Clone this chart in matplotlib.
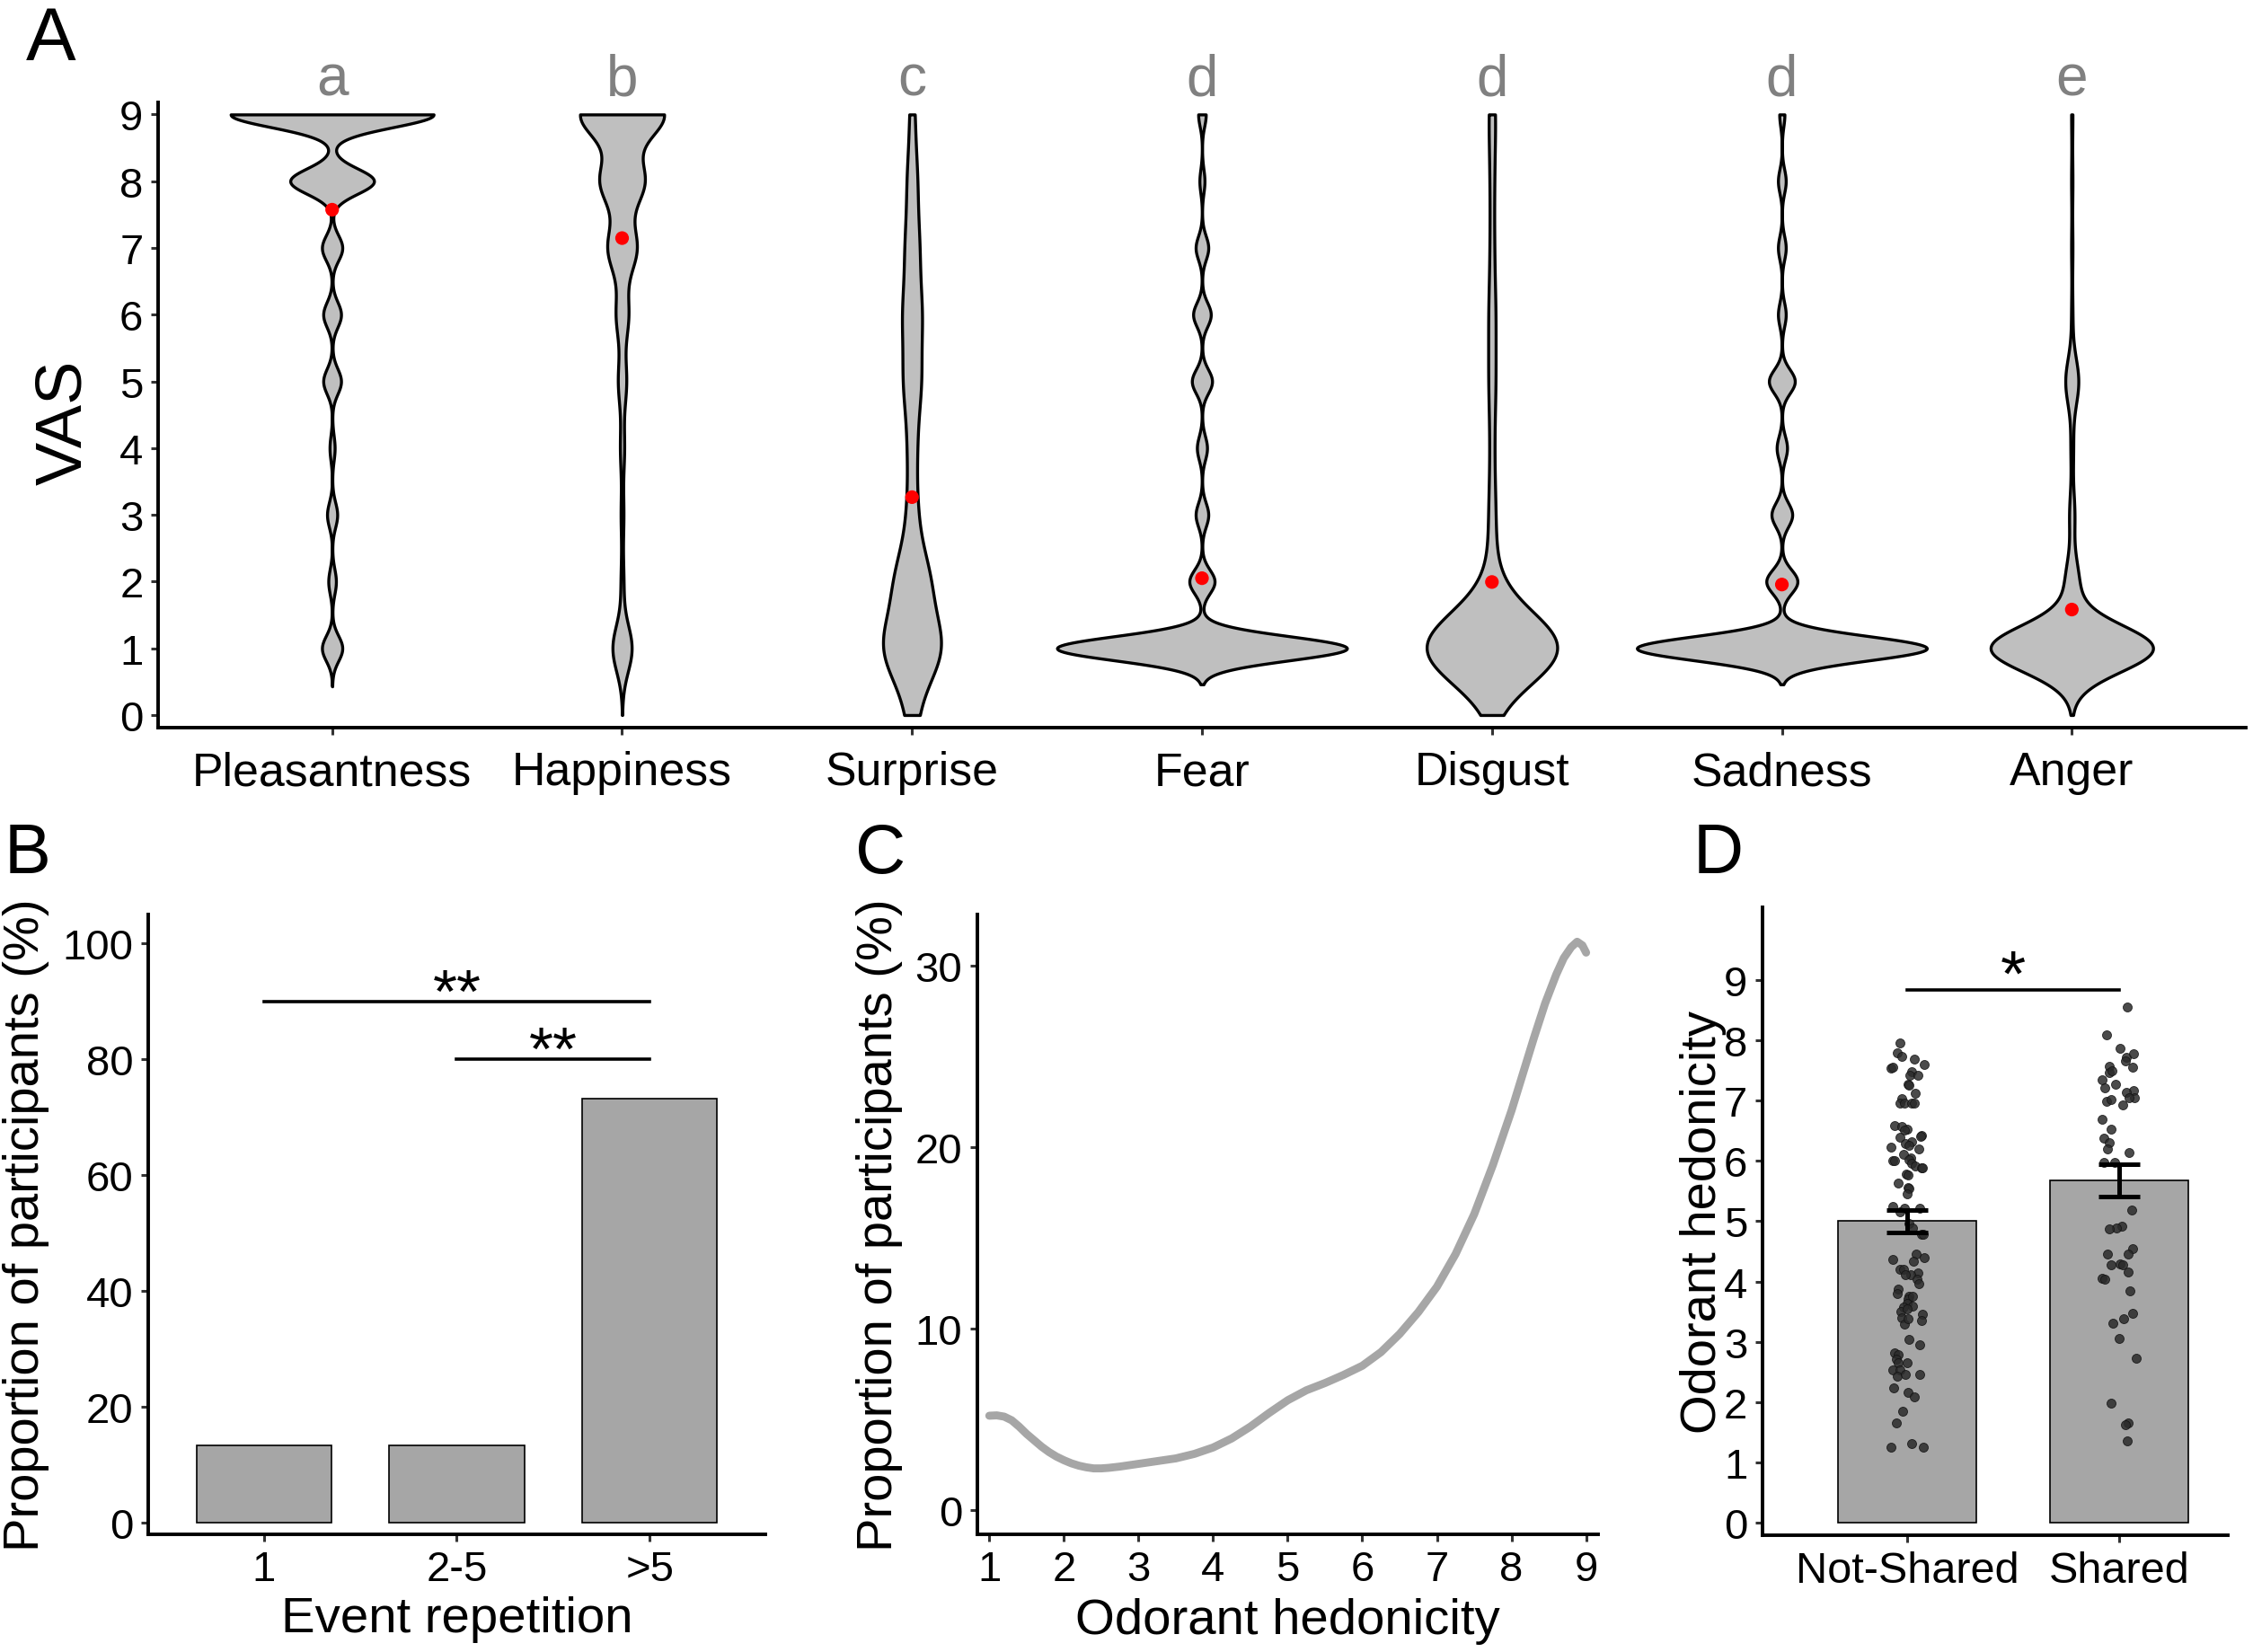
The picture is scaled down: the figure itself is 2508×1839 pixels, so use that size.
import numpy as np
import matplotlib.pyplot as plt
from matplotlib import mlab

narrow = ["Liberation Sans Narrow", "Liberation Sans", "DejaVu Sans"]
plt.rcParams["font.family"] = ["Liberation Sans", "DejaVu Sans"]

# ---------------- data ----------------
# panel A: number of ratings at each VAS value (0..9)
emotions = ["Pleasantness", "Happiness", "Surprise", "Fear", "Disgust", "Sadness", "Anger"]
group_letters = ["a", "b", "c", "d", "d", "d", "e"]
rating_values = [0, 1, 2, 3, 4, 5, 6, 7, 8, 9]
pleasantness_counts = [0, 8, 3, 4, 2, 7, 7, 8, 33, 80]
happiness_counts = [0, 14, 2, 2, 3, 6, 9, 21, 32, 61]
surprise_counts = [8, 48, 28, 8, 7, 14, 15, 11, 8, 4]
fear_counts = [0, 115, 10, 5, 4, 8, 7, 5, 2, 3]
disgust_counts = [0, 115, 6, 5, 3, 5, 5, 3, 3, 5]
sadness_counts = [0, 112, 12, 8, 4, 10, 3, 3, 3, 2]
anger_counts = [0, 125, 10, 4, 2, 10, 1, 1, 1, 1]

# panel B
repetition_labels = ["1", "2-5", ">5"]
repetition_pct = [13.4, 13.4, 73.2]

# panel C: proportion of participants vs odorant hedonicity
hedonicity_x = [1.0, 1.1, 1.2, 1.3, 1.4, 1.5, 1.6, 1.7, 1.8, 1.9, 2.0, 2.1, 2.2, 2.3,
                2.4, 2.5, 2.6, 2.75, 3.0, 3.25, 3.5, 3.75, 4.0, 4.25, 4.5, 4.75, 5.0,
                5.25, 5.5, 5.75, 6.0, 6.25, 6.5, 6.75, 7.0, 7.25, 7.5, 7.75, 8.0, 8.15,
                8.3, 8.45, 8.6, 8.7, 8.8, 8.88, 8.95, 9.0]
hedonicity_pct = [5.2, 5.22, 5.15, 4.95, 4.6, 4.2, 3.85, 3.5, 3.2, 2.95, 2.75, 2.58, 2.45,
                  2.36, 2.3, 2.3, 2.33, 2.4, 2.55, 2.7, 2.85, 3.1, 3.45, 3.95, 4.6, 5.35,
                  6.05, 6.6, 7.0, 7.45, 7.95, 8.7, 9.7, 10.9, 12.3, 14.1, 16.3, 19.0, 22.0,
                  24.0, 26.0, 27.9, 29.5, 30.4, 31.0, 31.3, 31.1, 30.7]

# panel D
share_labels = ["Not-Shared", "Shared"]
share_means = [5.0, 5.68]
share_sem = [0.18, 0.27]
not_shared_offset = [-0.034, -0.046, -0.026, 0.036, -0.077, -0.065, 0.081, 0.020, 0.012, 0.051,
                     0.006, 0.010, 0.040, -0.024, -0.034, -0.010, 0.022, 0.034, -0.059, -0.026,
                     0.002, -0.010, 0.067, 0.063, -0.034, 0.020, -0.077, -0.006, 0.010, 0.016,
                     0.057, -0.065, -0.057, -0.016, 0.010, 0.022, 0.040, 0.067, 0.071, -0.002,
                     0.004, -0.040, 0.006, 0.010, 0.000, -0.067, -0.010, -0.034, 0.061, 0.010,
                     0.026, 0.067, 0.077, 0.044, 0.081, -0.065, 0.030, -0.032, -0.018, 0.051,
                     0.016, 0.048, -0.008, 0.057, -0.040, -0.044, 0.010, 0.004, 0.028, 0.000,
                     -0.018, 0.026, -0.030, 0.000, 0.071, 0.069, -0.026, -0.014, 0.006, 0.010,
                     0.061, -0.057, -0.040, -0.051, 0.002, -0.040, -0.065, -0.032, -0.046, -0.006,
                     0.061, -0.061, 0.006, 0.034, -0.020, -0.051, -0.077, 0.020, 0.075]
not_shared_vals = [7.95, 7.79, 7.73, 7.68, 7.54, 7.55, 7.60, 7.48, 7.42, 7.42,
                   7.27, 7.25, 7.12, 7.03, 6.96, 6.96, 6.96, 6.96, 6.59, 6.57,
                   6.53, 6.51, 6.42, 6.40, 6.39, 6.32, 6.23, 6.29, 6.25, 6.05,
                   6.20, 6.01, 6.01, 6.10, 6.02, 5.96, 5.92, 5.88, 5.89, 5.78,
                   5.77, 5.63, 5.56, 5.54, 5.45, 5.25, 5.21, 5.16, 5.21, 4.96,
                   4.89, 4.79, 4.78, 4.46, 4.40, 4.36, 4.33, 4.21, 4.20, 4.15,
                   4.11, 4.04, 4.11, 3.96, 3.88, 3.80, 3.75, 3.71, 3.75, 3.64,
                   3.58, 3.60, 3.51, 3.55, 3.46, 3.36, 3.40, 3.30, 3.38, 3.04,
                   2.96, 2.82, 2.79, 2.71, 2.66, 2.66, 2.54, 2.54, 2.43, 2.46,
                   2.46, 2.24, 2.17, 2.09, 1.85, 1.66, 1.25, 1.32, 1.25]
shared_offset = [0.036, -0.059, 0.004, 0.032, 0.067, -0.046, 0.030, 0.063, -0.046, -0.036,
                 -0.081, -0.020, -0.067, 0.065, 0.034, 0.071, 0.046, -0.061, -0.038, 0.014,
                 -0.081, -0.040, -0.075, -0.046, -0.057, 0.044, -0.073, -0.024, 0.057, 0.010,
                 -0.016, -0.048, 0.061, -0.055, 0.042, 0.004, 0.016, -0.040, 0.040, -0.081,
                 -0.071, 0.051, 0.061, 0.020, -0.030, 0.000, 0.077, -0.040, 0.040, 0.030, 0.036]
shared_vals = [8.54, 8.09, 7.87, 7.71, 7.78, 7.57, 7.66, 7.55, 7.46, 7.49,
               7.34, 7.27, 7.21, 7.16, 7.13, 7.04, 7.04, 6.99, 7.01, 6.93,
               6.68, 6.52, 6.37, 6.30, 6.19, 6.14, 5.98, 5.98, 5.19, 4.92,
               4.88, 4.87, 4.54, 4.45, 4.45, 4.29, 4.27, 4.27, 4.16, 4.06,
               4.04, 3.84, 3.47, 3.38, 3.31, 3.06, 2.73, 1.99, 1.66, 1.63, 1.36]

# ---------------- styling helpers ----------------
all_counts = [pleasantness_counts, happiness_counts, surprise_counts, fear_counts,
              disgust_counts, sadness_counts, anger_counts]
bandwidths = [0.19, 0.35, 0.5, 0.18, 0.54, 0.18, 0.35]
half_widths = [0.35, 0.145, 0.10, 0.50, 0.225, 0.50, 0.28]

SPINE_W = 1.4
TICK_COL = "#333333"


def style_axes(ax, labelsize, family=None):
    for side in ["top", "right"]:
        ax.spines[side].set_visible(False)
    for side in ["left", "bottom"]:
        ax.spines[side].set_linewidth(SPINE_W)
    ax.tick_params(length=3, width=1.1, color=TICK_COL, labelsize=labelsize,
                   labelcolor="black", pad=3)
    if family is not None:
        for lab in ax.get_xticklabels() + ax.get_yticklabels():
            lab.set_family(family)


fig = plt.figure(figsize=(12.54, 9.2), dpi=200)

# ---------------- panel A ----------------
axA = fig.add_axes([0.0702, 0.5592, 0.9266, 0.3783])
stats = []
for counts, bw in zip(all_counts, bandwidths):
    data = np.repeat(np.array(rating_values, dtype=float), counts)
    kde = mlab.GaussianKDE(data, bw_method=bw / np.std(data, ddof=1))
    lo = max(0.0, data.min() - 3 * bw)
    hi = min(9.0, data.max() + 3 * bw)
    coords = np.linspace(lo, hi, 600)
    stats.append(dict(coords=coords, vals=kde.evaluate(coords), mean=data.mean(),
                      median=np.median(data), min=data.min(), max=data.max()))

positions = np.arange(1, len(emotions) + 1)
parts = axA.violin(stats, positions=positions, widths=[2 * w for w in half_widths],
                   showmeans=False, showextrema=False, showmedians=False)
for body in parts["bodies"]:
    body.set_facecolor("#BFBFBF")
    body.set_edgecolor("black")
    body.set_linewidth(1.2)
    body.set_alpha(1)
axA.scatter(positions, [s["mean"] for s in stats], s=30, color="red", zorder=3,
            edgecolors="none")
for pos, letter in zip(positions, group_letters):
    axA.text(pos, 9.52, letter, ha="center", va="center", color="#808080",
             fontsize=23, family=narrow)

axA.set_xlim(0.4, 7.6)
axA.set_ylim(-0.19, 9.18)
axA.set_yticks(range(0, 10))
axA.set_xticks(positions)
axA.set_xticklabels(emotions)
style_axes(axA, 17, narrow)
axA.tick_params(axis="x", pad=6)
for lab in axA.get_xticklabels():
    lab.set_fontsize(18.7)
axA.set_ylabel("VAS", fontsize=26, family=narrow, va="center")
axA.yaxis.set_label_coords(-0.045, 0.49)

# ---------------- panel B ----------------
axB = fig.add_axes([0.0658, 0.0712, 0.2739, 0.375])
xb = np.arange(1, len(repetition_labels) + 1)
axB.bar(xb, repetition_pct, width=0.7, color="#A6A6A6", edgecolor="black", linewidth=0.6)
axB.plot([1, 3], [90, 90], color="black", lw=1.3)
axB.plot([2, 3], [80, 80], color="black", lw=1.3)
axB.text(2, 88.3, "**", ha="center", va="baseline", fontsize=25)
axB.text(2.5, 78.3, "**", ha="center", va="baseline", fontsize=25)
axB.set_xlim(0.4, 3.6)
axB.set_ylim(-2, 105)
axB.set_yticks(range(0, 101, 20))
axB.set_xticks(xb)
axB.set_xticklabels(repetition_labels)
style_axes(axB, 17)
axB.set_ylabel("Proportion of participants (%)", fontsize=20.2, va="center")
axB.yaxis.set_label_coords(-0.198, 0.5)
axB.set_xlabel("Event repetition", fontsize=20.3, va="center")
axB.xaxis.set_label_coords(0.5, -0.136)

# ---------------- panel C ----------------
axC = fig.add_axes([0.4338, 0.0712, 0.2755, 0.375])
axC.plot(hedonicity_x, hedonicity_pct, color="#A6A6A6", lw=3.2,
         solid_joinstyle="round", solid_capstyle="round")
axC.set_xlim(0.84, 9.16)
axC.set_ylim(-1.33, 32.8)
axC.set_xticks(range(1, 10))
axC.set_yticks([0, 10, 20, 30])
style_axes(axC, 17)
axC.set_ylabel("Proportion of participants (%)", fontsize=20.2, va="center")
axC.yaxis.set_label_coords(-0.158, 0.5)
axC.set_xlabel("Odorant hedonicity", fontsize=20.3, va="center")
axC.xaxis.set_label_coords(0.5, -0.139)

# ---------------- panel D ----------------
axD = fig.add_axes([0.7823, 0.0707, 0.2065, 0.3799])
xd = np.arange(1, len(share_labels) + 1)
axD.bar(xd, share_means, width=0.65, color="#A6A6A6", edgecolor="black", linewidth=0.6)
axD.scatter(1 + np.array(not_shared_offset), not_shared_vals, s=13, color="#2b2b2b",
            alpha=0.85, edgecolors="#111111", linewidths=0.3, zorder=3)
axD.scatter(2 + np.array(shared_offset), shared_vals, s=13, color="#2b2b2b",
            alpha=0.85, edgecolors="#111111", linewidths=0.3, zorder=3)
axD.errorbar(xd, share_means, yerr=share_sem, fmt="none", ecolor="black", elinewidth=1.8,
             capsize=8.3, capthick=1.8, zorder=4)
axD.plot([1, 2], [8.83, 8.83], color="black", lw=1.3)
axD.text(1.5, 8.74, "*", ha="center", va="baseline", fontsize=26)
axD.set_xlim(0.32, 2.51)
axD.set_ylim(-0.2, 10.2)
axD.set_yticks(range(0, 10))
axD.set_xticks(xd)
axD.set_xticklabels(share_labels)
style_axes(axD, 17)
for lab in axD.get_xticklabels():
    lab.set_fontsize(17.5)
axD.set_ylabel("Odorant hedonicity", fontsize=20.2, va="center")
axD.yaxis.set_label_coords(-0.127, 0.5)

# ---------------- panel letters ----------------
fig.text(0.0116, 0.997, "A", fontsize=30, family=narrow, ha="left", va="top")
fig.text(0.002, 0.5027, "B", fontsize=28, ha="left", va="top")
fig.text(0.3796, 0.5027, "C", fontsize=28, ha="left", va="top")
fig.text(0.7516, 0.5027, "D", fontsize=28, ha="left", va="top")

fig.savefig("out.png", dpi=200)
